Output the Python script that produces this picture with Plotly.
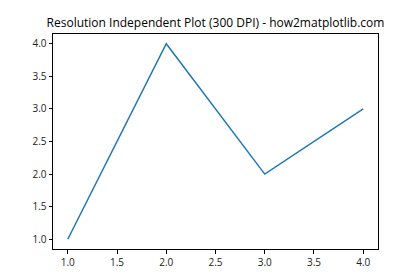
import plotly.graph_objects as go

x_vals = [1, 2, 3, 4]
y_vals = [1, 4, 2, 3]
x_ticks = [1.0, 1.5, 2.0, 2.5, 3.0, 3.5, 4.0]
y_ticks = [1.0, 1.5, 2.0, 2.5, 3.0, 3.5, 4.0]
title_text = "Resolution Independent Plot (300 DPI) - how2matplotlib.com"

fig = go.Figure()
fig.add_trace(go.Scatter(x=x_vals, y=y_vals, mode="lines",
                         line=dict(color="#1f77b4", width=1.5)))

axis_common = dict(showgrid=False, zeroline=False, showline=True, mirror=True,
                   linecolor="black", linewidth=1, ticks="outside", ticklen=3.5,
                   tickwidth=0.8, tickcolor="black",
                   tickfont=dict(family="Open Sans", size=10, color="#222"))

fig.update_xaxes(range=[0.85, 4.15], tickvals=x_ticks,
                 ticktext=[f"{v:.1f}" for v in x_ticks], **axis_common)
fig.update_yaxes(range=[0.85, 4.15], tickvals=y_ticks,
                 ticktext=[f"{v:.1f}" for v in y_ticks], **axis_common)

fig.update_layout(
    width=420, height=280,
    margin=dict(l=53, r=42, t=34, b=31),
    paper_bgcolor="white", plot_bgcolor="white",
    showlegend=False,
    title=dict(text=title_text, x=0.5, xref="paper", xanchor="center",
               y=1 - 23/280, yanchor="middle",
               font=dict(family="Open Sans", size=12, color="black")),
)

fig.write_html("out.html")
